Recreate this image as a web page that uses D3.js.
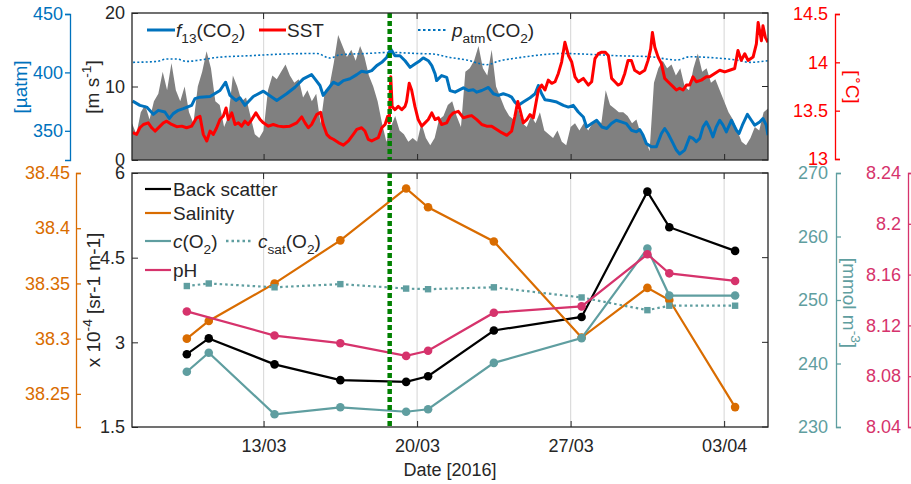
<!DOCTYPE html>
<html><head><meta charset="utf-8">
<script src="https://cdn.jsdelivr.net/npm/d3@7"></script>
<style>
body{margin:0;background:#fff;}
svg{display:block;font-family:"Liberation Sans",Arial,sans-serif;}
</style></head><body>
<svg id="chart" width="911" height="484"></svg>
<script>
// ---------------- DATA ----------------
const startDate = "2016-03-07T00:00:00Z";
const endDate = "2016-04-05T00:00:00Z";
const xTickDates = ["2016-03-13T00:00:00Z","2016-03-20T00:00:00Z","2016-03-27T00:00:00Z","2016-04-03T00:00:00Z"];
const eventDate = "2016-03-18T18:00:00Z";

// wind speed [m s-1], sampled every 0.2 day from startDate
const windStepDays = 0.2;
const windSpeed = [5.0,3.5,6.5,7.5,5.5,8.0,9.0,12.0,9.5,13.2,9.5,8.0,10.0,6.5,5.0,10.0,12.0,14.8,12.5,8.0,
 7.5,4.5,6.0,11.5,10.0,8.0,8.5,6.0,3.5,3.0,4.0,9.5,11.5,11.0,12.0,13.0,11.5,10.5,11.0,8.5,
 9.5,8.0,9.0,5.0,9.5,10.0,13.2,17.0,15.5,14.0,15.0,13.5,15.5,14.0,11.5,10.0,8.0,5.0,2.5,4.5,
 6.0,4.0,3.5,2.5,3.0,2.5,5.0,3.0,2.0,3.0,5.5,6.0,7.5,8.0,6.0,4.5,12.0,12.5,13.5,15.5,
 12.5,11.5,15.0,10.0,8.5,7.0,6.0,5.5,7.0,5.0,4.5,6.0,5.0,6.5,4.0,3.5,3.0,4.0,2.5,2.0,
 4.5,5.0,4.0,5.0,4.0,5.0,5.5,5.0,9.5,7.5,7.0,6.5,6.5,6.0,5.0,5.5,3.5,3.0,1.2,10.5,
 12.5,13.5,12.5,13.0,11.5,12.5,10.0,9.5,12.5,14.5,12.0,12.5,10.5,11.0,9.5,8.0,6.5,5.5,4.0,2.5,
 2.0,3.0,4.5,4.0,6.5,7.0];

// f13(CO2) [uatm]; time in days since startDate
const co2Day = [0.03,0.36,0.67,0.97,1.20,1.50,1.70,1.88,2.11,2.34,2.72,2.87,3.10,3.56,4.01,4.27,4.47,4.74,4.92,5.15,
 5.53,5.99,6.42,6.60,7.05,7.43,7.51,7.81,8.19,8.34,8.57,8.72,8.95,9.18,9.41,9.64,9.94,10.25,10.47,10.70,
 10.93,11.16,11.39,11.61,11.80,11.99,12.22,12.45,12.68,12.90,13.13,13.28,13.51,13.67,13.82,13.89,14.12,14.35,14.50,14.73,
 15.11,15.34,15.56,15.72,15.95,16.25,16.48,16.70,16.93,17.16,17.31,17.46,17.62,17.84,18.15,18.38,18.53,18.68,18.83,19.06,
 19.37,19.67,19.90,20.12,20.35,20.58,20.73,20.96,21.19,21.42,21.65,21.86,22.08,22.31,22.54,22.77,23.00,23.15,23.30,23.45,
 23.68,23.91,24.14,24.29,24.44,24.67,24.82,24.97,25.20,25.43,25.58,25.73,25.89,26.04,26.19,26.34,26.49,26.64,26.80,26.95,
 27.10,27.33,27.56,27.68,27.83,28.06,28.24,28.39,28.62,28.77,28.92,29.00];
const co2Val = [375.4,371.8,370.3,364.1,367.5,366.1,360.5,364.7,367.5,369.0,371.8,377.5,378.8,379.4,384.5,391.6,380.3,376.0,378.3,371.8,
 379.4,383.9,378.3,376.0,381.7,387.3,388.8,394.5,398.1,394.5,388.8,380.3,386.0,391.6,389.6,393.0,394.5,398.1,400.9,400.1,
 401.5,405.8,408.6,412.8,420.0,414.3,414.3,410.0,404.3,407.2,410.0,412.4,410.0,405.8,398.7,393.0,397.3,395.8,384.5,383.1,
 386.8,384.5,385.1,383.1,384.5,387.1,381.7,380.3,381.7,380.3,378.8,374.6,371.8,374.6,378.3,381.7,388.8,381.7,376.6,376.0,
 374.6,371.8,370.3,371.8,366.1,361.8,353.3,356.2,359.0,353.3,352.0,356.2,359.0,357.6,356.2,350.5,349.1,351.1,346.3,339.2,
 336.3,336.3,347.7,352.0,347.7,339.2,333.5,330.1,333.5,344.8,343.5,340.6,343.5,353.3,357.6,352.0,344.8,353.3,359.0,354.8,
 349.1,359.0,350.5,347.7,354.8,364.1,359.0,354.8,357.6,360.5,354.8,346.3];

// SST [deg C]
const sstDay = [0.03,0.21,0.36,0.52,0.74,0.90,1.05,1.28,1.43,1.58,1.81,2.04,2.27,2.49,2.72,2.95,3.10,3.25,3.41,3.56,
 3.71,3.86,4.01,4.16,4.29,4.39,4.55,4.70,4.85,5.00,5.15,5.30,5.46,5.65,5.84,5.99,6.22,6.44,6.67,6.90,
 7.20,7.51,7.74,7.89,8.04,8.19,8.42,8.60,8.72,8.88,9.03,9.18,9.41,9.64,9.87,10.09,10.25,10.47,10.62,10.77,
 10.93,11.08,11.23,11.39,11.54,11.66,11.73,11.80,11.86,11.99,12.14,12.30,12.45,12.52,12.64,12.75,12.90,13.05,13.21,13.36,
 13.51,13.67,13.82,13.97,14.12,14.35,14.50,14.65,14.88,15.11,15.34,15.49,15.72,15.95,16.17,16.40,16.63,16.86,17.09,17.31,
 17.46,17.59,17.69,17.84,18.00,18.15,18.30,18.42,18.53,18.68,18.83,18.98,19.14,19.29,19.44,19.59,19.74,19.90,20.05,20.20,
 20.35,20.58,20.81,20.96,21.11,21.26,21.42,21.57,21.72,21.87,22.02,22.16,22.31,22.47,22.62,22.77,22.92,23.15,23.38,23.53,
 23.65,23.73,23.84,23.99,24.14,24.29,24.44,24.67,24.82,24.97,25.13,25.28,25.43,25.58,25.73,25.96,26.19,26.34,26.57,26.80,
 27.03,27.25,27.48,27.63,27.78,27.94,28.09,28.32,28.47,28.55,28.70,28.77,28.88,29.00];
const sstVal = [13.272,13.255,13.323,13.357,13.374,13.323,13.289,13.340,13.374,13.391,13.357,13.334,13.340,13.323,13.340,13.426,13.442,13.255,13.187,13.289,
 13.255,13.323,13.408,13.442,13.528,13.408,13.477,13.357,13.374,13.340,13.391,13.357,13.408,13.477,13.408,13.374,13.340,13.357,13.340,13.334,
 13.340,13.374,13.436,13.374,13.323,13.357,13.459,13.483,13.357,13.255,13.221,13.204,13.170,13.143,13.187,13.255,13.306,13.323,13.289,13.204,
 13.187,13.204,13.221,13.323,13.357,13.442,13.374,13.850,13.544,13.510,13.544,13.510,13.544,13.595,13.783,13.714,13.544,13.408,13.340,13.374,
 13.408,13.477,13.408,13.426,13.357,13.374,13.442,13.477,13.493,13.426,13.442,13.449,13.408,13.357,13.340,13.340,13.306,13.272,13.245,13.289,
 13.442,13.595,13.510,13.374,13.408,13.459,13.426,13.579,13.714,13.765,13.714,13.816,13.783,13.799,13.885,14.003,14.207,14.071,14.003,13.850,
 13.799,13.834,13.765,13.799,14.038,14.089,14.105,14.105,14.071,13.834,13.799,13.765,13.783,13.885,14.020,14.020,13.918,13.885,13.918,14.020,
 14.140,14.309,14.156,14.054,13.987,13.834,13.799,13.748,13.714,13.732,13.714,13.765,13.765,13.850,13.799,13.816,13.850,13.850,13.885,13.918,
 13.901,13.918,13.936,14.122,14.020,14.089,14.020,14.054,14.191,14.411,14.224,14.378,14.258,14.207];

// p_atm(CO2) [uatm]
const patmDay = [0.05,1.13,1.58,2.04,2.49,3.10,3.86,5.38,6.90,8.42,9.03,9.49,10.70,11.76,12.98,13.74,14.50,15.26,16.17,16.78,
 17.54,18.30,19.06,19.67,20.58,22.10,23.62,24.84,25.44,26.66,27.57,28.18,29.00];
const patmVal = [408.6,409.4,411.5,411.5,409.4,410.6,412.8,414.3,415.7,416.2,412.3,415.1,416.2,417.1,416.2,415.7,412.8,410.6,406.6,410.0,
 412.3,414.3,415.7,416.2,415.7,414.3,413.4,410.6,413.4,412.3,410.6,408.6,410.0];

// discrete samples (bottom panel)
const sampleDates = ["2016-03-09T12:00:00Z","2016-03-10T12:00:00Z","2016-03-13T12:00:00Z","2016-03-16T12:00:00Z","2016-03-19T12:00:00Z",
 "2016-03-20T12:00:00Z","2016-03-23T12:00:00Z","2016-03-27T12:00:00Z","2016-03-30T12:00:00Z","2016-03-31T12:00:00Z","2016-04-03T12:00:00Z"];
const backScatter = [2.79,3.07,2.61,2.33,2.30,2.40,3.21,3.45,5.67,5.04,4.62];        // x 1e-4 sr-1 m-1
const salinity    = [38.300,38.316,38.350,38.389,38.436,38.419,38.388,38.301,38.346,38.335,38.238];
const cO2         = [238.7,241.7,232.0,233.1,232.4,232.8,240.1,244.0,258.1,250.7,250.7]; // mmol m-3
const cSatO2      = [252.2,252.6,252.0,252.5,251.8,251.7,252.0,250.4,248.4,249.1,249.1];
const pH          = [8.131,null,8.112,8.106,8.096,8.100,8.130,8.135,8.176,8.161,8.155];

// tick labels / axis ranges
const windTicks = [0,10,20];          const windDomain = [0,20];
const co2Ticks = [350,400,450];       const co2Domain = [325,450];
const sstTicks = [13,13.5,14,14.5];   const sstDomain = [13,14.5];
const bsTicks = [1.5,3,4.5,6];        const bsDomain = [1.5,6];
const salTicks = [38.25,38.3,38.35,38.4,38.45]; const salDomain = [38.22,38.45];
const o2Ticks = [230,240,250,260,270]; const o2Domain = [230,270];
const phTicks = [8.04,8.08,8.12,8.16,8.2,8.24]; const phDomain = [8.04,8.24];

// ---------------- DRAW ----------------
const svg = d3.select("#chart");
const L = 132, R = 768;
const T1 = 13, B1 = 160, T2 = 173, B2 = 427;
const C = {blue:"#0072BD", red:"#FF0000", gray:"#808080", black:"#000000", orange:"#D96C00",
           teal:"#5F9EA0", pink:"#D6336C", green:"#008000", axis:"#262626", grid:"#DCDCDC"};
const FS = 18, LFS = 19;
const DAYMS = 86400000;
const t0 = new Date(startDate);
const x = d3.scaleUtc().domain([t0, new Date(endDate)]).range([L, R]);
const xTicks = xTickDates.map(s => new Date(s));
const dDate = dd => new Date(t0.getTime() + dd*DAYMS);

function rich(sel, parts, size){
  let shift = 0;
  parts.forEach(p=>{
    const target = p.sub ? size*0.32 : (p.sup ? -size*0.42 : 0);
    const ts = sel.append("tspan").text(p.t).attr("dy", (target - shift).toFixed(2));
    shift = target;
    if(p.sub||p.sup) ts.attr("font-size", (size*0.72).toFixed(1));
    if(p.it) ts.attr("font-style","italic");
  });
}

const defs = svg.append("defs");
defs.append("clipPath").attr("id","c1").append("rect").attr("x",L).attr("y",T1).attr("width",R-L).attr("height",B1-T1);
defs.append("clipPath").attr("id","c2").append("rect").attr("x",L).attr("y",T2).attr("width",R-L).attr("height",B2-T2);

function gridLines(y0, y1){
  svg.append("g").selectAll("line").data(xTicks).enter().append("line")
    .attr("x1",d=>x(d)).attr("x2",d=>x(d)).attr("y1",y0).attr("y2",y1)
    .attr("stroke",C.grid).attr("stroke-width",1.2);
}
function panelAxes(y0, y1, yScale, yTicks, xLabels){
  const g = svg.append("g");
  const xb = g.append("g").attr("transform",`translate(0,${y1})`)
    .call(d3.axisBottom(x).tickValues(xTicks).tickSize(-6).tickPadding(12)
      .tickFormat(xLabels ? d3.utcFormat("%d/%m") : ""));
  xb.select(".domain").remove();
  xb.selectAll("line").attr("stroke",C.axis);
  xb.selectAll("text").attr("font-size",FS).attr("fill",C.axis);
  g.append("g").selectAll("line").data(xTicks).enter().append("line")
    .attr("x1",d=>x(d)).attr("x2",d=>x(d)).attr("y1",y0).attr("y2",y0+6).attr("stroke",C.axis);
  const yl = g.append("g").attr("transform",`translate(${L},0)`)
    .call(d3.axisLeft(yScale).tickValues(yTicks).tickSize(-6).tickPadding(7).tickFormat(d=>String(d)));
  yl.select(".domain").remove();
  yl.selectAll("line").attr("stroke",C.axis);
  yl.selectAll("text").attr("font-size",FS).attr("fill",C.axis);
  g.append("g").selectAll("line").data(yTicks).enter().append("line")
    .attr("x1",R).attr("x2",R-6).attr("y1",d=>yScale(d)).attr("y2",d=>yScale(d)).attr("stroke",C.axis);
  g.append("rect").attr("x",L).attr("y",y0).attr("width",R-L).attr("height",y1-y0)
    .attr("fill","none").attr("stroke",C.axis).attr("stroke-width",1.3);
}
function sideAxis(xpos, scale, tickVals, color, ticksRight, pad){
  const ax = d3.axisLeft(scale).tickValues(tickVals).tickFormat(d=>String(d))
    .tickSizeInner(ticksRight? -5 : 5).tickSizeOuter(ticksRight? -5 : 5).tickPadding(pad);
  const g = svg.append("g").attr("transform",`translate(${xpos},0)`).call(ax);
  g.select(".domain").attr("stroke",color).attr("stroke-width",1.3);
  g.selectAll("line").attr("stroke",color).attr("stroke-width",1.3);
  g.selectAll("text").attr("font-size",FS).attr("fill",color);
  return g;
}
function rotLabel(xp, yp, angle, parts, color){
  const t = svg.append("text").attr("transform",`translate(${xp},${yp}) rotate(${angle})`)
    .attr("text-anchor","middle").attr("font-size",LFS).attr("fill",color);
  rich(t, parts, LFS);
}

// ===== TOP PANEL =====
const yW = d3.scaleLinear().domain(windDomain).range([B1, T1]);
const yCO2 = d3.scaleLinear().domain(co2Domain).range([B1, 14]);
const ySST = d3.scaleLinear().domain(sstDomain).range([159, 14]);

gridLines(T1, B1);
const topG = svg.append("g").attr("clip-path","url(#c1)");
topG.append("path").datum(windSpeed)
  .attr("d", d3.area().x((d,i)=>x(dDate(i*windStepDays))).y0(yW(0)).y1(d=>yW(d)))
  .attr("fill",C.gray);
topG.append("path").datum(patmVal)
  .attr("d", d3.line().x((d,i)=>x(dDate(patmDay[i]))).y(d=>yCO2(d)).curve(d3.curveMonotoneX))
  .attr("fill","none").attr("stroke",C.blue).attr("stroke-width",1.6).attr("stroke-dasharray","2,2.2");
topG.append("path").datum(co2Val)
  .attr("d", d3.line().x((d,i)=>x(dDate(co2Day[i]))).y(d=>yCO2(d)))
  .attr("fill","none").attr("stroke",C.blue).attr("stroke-width",3).attr("stroke-linejoin","round");
topG.append("path").datum(sstVal)
  .attr("d", d3.line().x((d,i)=>x(dDate(sstDay[i]))).y(d=>ySST(d)))
  .attr("fill","none").attr("stroke",C.red).attr("stroke-width",3).attr("stroke-linejoin","round");
topG.append("line").attr("x1",x(new Date(eventDate))).attr("x2",x(new Date(eventDate)))
  .attr("y1",T1).attr("y2",B1).attr("stroke",C.green).attr("stroke-width",4.5).attr("stroke-dasharray","5,3");
panelAxes(T1, B1, yW, windTicks, false);

sideAxis(70, yCO2, co2Ticks, C.blue, false, 2);
sideAxis(835, ySST, sstTicks, C.red, true, 7);
rotLabel(27, 87, -90, [{t:"[µatm]"}], C.blue);
rotLabel(99, 87, -90, [{t:"[m s"},{t:"-1",sup:true},{t:"]"}], C.axis);
rotLabel(846, 87, 90, [{t:"["},{t:"∘",sup:true},{t:"C]"}], C.red);

// top legend
const lg1 = svg.append("g");
const legY1 = 30;
lg1.append("line").attr("x1",147).attr("x2",175).attr("y1",legY1).attr("y2",legY1).attr("stroke",C.blue).attr("stroke-width",3);
rich(lg1.append("text").attr("x",176).attr("y",legY1+7).attr("font-size",LFS).attr("fill",C.axis),
  [{t:"f",it:true},{t:"13",sub:true},{t:"(CO"},{t:"2",sub:true},{t:")"}], LFS);
lg1.append("line").attr("x1",259).attr("x2",286).attr("y1",legY1).attr("y2",legY1).attr("stroke",C.red).attr("stroke-width",3);
lg1.append("text").attr("x",287).attr("y",legY1+7).attr("font-size",LFS).attr("fill",C.axis).text("SST");
lg1.append("line").attr("x1",418).attr("x2",448).attr("y1",legY1).attr("y2",legY1).attr("stroke",C.blue).attr("stroke-width",2.2).attr("stroke-dasharray","2.5,2.5");
rich(lg1.append("text").attr("x",452).attr("y",legY1+7).attr("font-size",LFS).attr("fill",C.axis),
  [{t:"p",it:true},{t:"atm",sub:true},{t:"(CO"},{t:"2",sub:true},{t:")"}], LFS);

// ===== BOTTOM PANEL =====
const yBS = d3.scaleLinear().domain(bsDomain).range([B2, T2]);
const ySal = d3.scaleLinear().domain(salDomain).range([B2, T2]);
const yO2 = d3.scaleLinear().domain(o2Domain).range([B2, T2]);
const yPH = d3.scaleLinear().domain(phDomain).range([B2, T2]);
const sDates = sampleDates.map(s=>new Date(s));

gridLines(T2, B2);
const botG = svg.append("g").attr("clip-path","url(#c2)");
function series(vals, ys, color, dash, marker){
  const g = botG.append("g");
  const pts = vals.map((v,i)=>({v,i})).filter(p=>p.v!=null);
  g.append("path").datum(pts)
    .attr("d", d3.line().x(p=>x(sDates[p.i])).y(p=>ys(p.v)))
    .attr("fill","none").attr("stroke",color).attr("stroke-width",2.2)
    .attr("stroke-dasharray",dash||null);
  if(marker==="square"){
    g.selectAll("rect").data(pts).enter().append("rect")
      .attr("x",p=>x(sDates[p.i])-3.2).attr("y",p=>ys(p.v)-3.2).attr("width",6.4).attr("height",6.4).attr("fill",color);
  } else {
    g.selectAll("circle").data(pts).enter().append("circle")
      .attr("cx",p=>x(sDates[p.i])).attr("cy",p=>ys(p.v)).attr("r",4.3).attr("fill",color);
  }
}
series(backScatter, yBS, C.black);
series(salinity, ySal, C.orange);
series(cO2, yO2, C.teal);
series(cSatO2, yO2, C.teal, "2.5,3", "square");
series(pH, yPH, C.pink);
botG.append("line").attr("x1",x(new Date(eventDate))).attr("x2",x(new Date(eventDate)))
  .attr("y1",T2).attr("y2",B2).attr("stroke",C.green).attr("stroke-width",4.5).attr("stroke-dasharray","5,3");
panelAxes(T2, B2, yBS, bsTicks, true);

sideAxis(76, ySal, salTicks, C.orange, true, 6);
sideAxis(836, yO2, o2Ticks, C.teal, true, 8);
sideAxis(908, yPH, phTicks, C.pink, true, 7);
rotLabel(100, 300, -90, [{t:"x 10"},{t:"-4",sup:true},{t:" [sr-1 m-1]"}], C.axis);
rotLabel(843, 303, 90, [{t:"[mmol m"},{t:"-3",sup:true},{t:"]"}], C.teal);

svg.append("text").attr("x",450).attr("y",476).attr("text-anchor","middle")
  .attr("font-size",FS).attr("fill",C.axis).text("Date [2016]");

// bottom legend
const lg2 = svg.append("g");
const rows = [{y:189,c:C.black,parts:[{t:"Back scatter"}]},
              {y:213,c:C.orange,parts:[{t:"Salinity"}]},
              {y:241,c:C.teal,parts:[{t:"c",it:true},{t:"(O"},{t:"2",sub:true},{t:")"}]},
              {y:270,c:C.pink,parts:[{t:"pH"}]}];
rows.forEach(r=>{
  lg2.append("line").attr("x1",145).attr("x2",171).attr("y1",r.y).attr("y2",r.y).attr("stroke",r.c).attr("stroke-width",2.2);
  rich(lg2.append("text").attr("x",173).attr("y",r.y+7).attr("font-size",LFS).attr("fill",C.axis), r.parts, LFS);
});
lg2.append("line").attr("x1",226).attr("x2",251).attr("y1",241).attr("y2",241).attr("stroke",C.teal).attr("stroke-width",2.6).attr("stroke-dasharray","2.5,3");
rich(lg2.append("text").attr("x",258).attr("y",248).attr("font-size",LFS).attr("fill",C.axis),
  [{t:"c",it:true},{t:"sat",sub:true},{t:"(O"},{t:"2",sub:true},{t:")"}], LFS);
</script>
</body></html>
